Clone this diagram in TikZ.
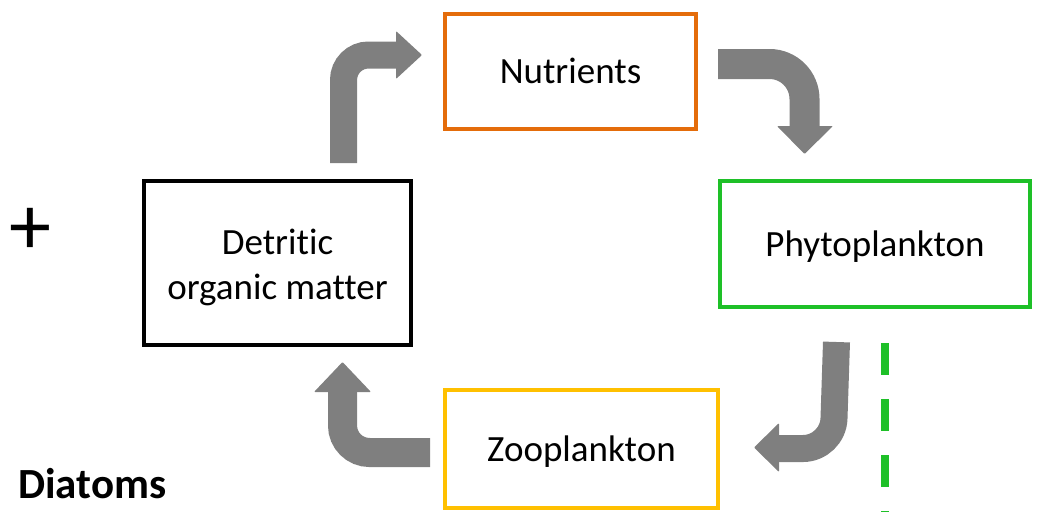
\documentclass[tikz,border=0pt]{standalone}
\usepackage{fontspec}
\setmainfont[Ligatures={NoCommon}]{Carlito}
\definecolor{orangebox}{RGB}{228,108,10}
\definecolor{greenbox}{RGB}{30,192,40}
\definecolor{yellowbox}{RGB}{255,192,0}
\definecolor{arrowgray}{RGB}{127,127,127}
\tikzset{
  box/.style={draw, line width=4pt, inner sep=0pt, align=center,
    font=\fontsize{37}{45}\selectfont},
  oneline/.style={text height=32pt, text depth=8pt},
  flow/.style={draw=arrowgray, line width=27pt, rounded corners=25pt, line cap=butt},
  tiphead/.style={fill=arrowgray, rounded corners=1pt}
}
\begin{document}
\begin{tikzpicture}[x=1pt,y=-1pt]
\useasboundingbox (0,0) rectangle (1038,512);
% boxes
\node[box, oneline, draw=orangebox, minimum width=251pt, minimum height=115pt] (nut) at (570.5,71.5) {Nutrients};
\node[box, oneline, draw=greenbox, minimum width=310pt, minimum height=126pt] (phy) at (875,244) {Phytoplankton};
\node[box, draw=black, minimum width=267pt, minimum height=164pt,
  label={[align=center, inner sep=0pt, font=\fontsize{37}{45}\selectfont, yshift=-4pt]center:Detritic\\organic matter}] (det) at (277.5,263) {};
\node[box, oneline, draw=yellowbox, minimum width=273pt, minimum height=118pt] (zoo) at (581.5,449) {Zooplankton};
% labels
\node[font=\fontsize{84}{84}\selectfont, inner sep=0pt] (plus) at (30,231) {+};
\node[anchor=base west, inner sep=0pt, font=\bfseries\fontsize{43}{43}\selectfont] (diat) at (18,498) {Diatoms};
% arrow 1: detritic -> nutrients
\coordinate (a1s) at (343.5,163);
\coordinate (a1c) at (343.5,55);
\coordinate (a1e) at (397,55);
\draw[flow] (a1s) -- (a1c) -- (a1e);
\fill[tiphead] (396,31) -- (422,55) -- (396,79) -- cycle;
% arrow 2: nutrients -> phytoplankton
\coordinate (a2s) at (718,64);
\coordinate (a2c) at (804.5,64);
\coordinate (a2e) at (804.5,127);
\draw[flow, line width=30pt, rounded corners=35pt] (a2s) -- (a2c) -- (a2e);
\fill[tiphead] (777,126) -- (804.5,154) -- (833,126) -- cycle;
% arrow 3: phytoplankton -> zooplankton
\coordinate (a3s) at (836.5,342);
\coordinate (a3c) at (833,448.5);
\coordinate (a3e) at (777,448.5);
\draw[flow, rounded corners=30pt] (a3s) -- (a3c) -- (a3e);
\fill[tiphead] (779,423) -- (754,447.5) -- (779,472) -- cycle;
% arrow 4: zooplankton -> detritic
\coordinate (a4s) at (430,452.5);
\coordinate (a4c) at (342.5,452.5);
\coordinate (a4e) at (342.5,391);
\draw[flow, line width=29pt, rounded corners=27pt] (a4s) -- (a4c) -- (a4e);
\fill[tiphead] (314,392) -- (342.5,362) -- (371,392) -- cycle;
% dashed green line
\coordinate (d1) at (885,343);
\coordinate (d2) at (885,512);
\draw[greenbox, line width=8pt, dash pattern=on 32pt off 24pt] (d1) -- (d2);
\end{tikzpicture}
\end{document}
